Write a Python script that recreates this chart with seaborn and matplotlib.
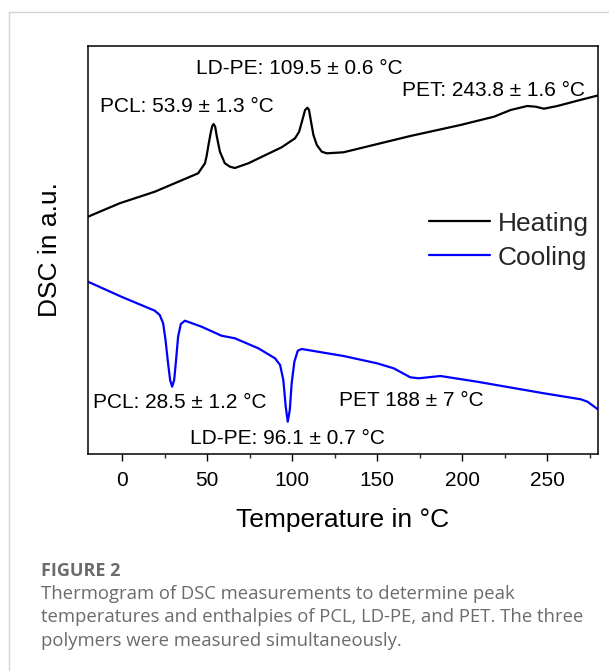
import matplotlib
matplotlib.use("Agg")
import matplotlib.pyplot as plt
import seaborn as sns
import pandas as pd
from matplotlib.ticker import MultipleLocator

# ---- data (DSC in arbitrary units) ----
heat_T = [-20, -1.4, 19.3, 44.8, 48.8, 49.7, 50.7, 52.3, 53.1, 53.9, 54.8, 55.8, 57.6,
          60.5, 63.5, 66.4, 74.3, 93.9, 101.8, 104.2, 106.1, 107.7, 109.1, 110.0, 111.2,
          112.6, 114.6, 117.5, 120.5, 130.3, 169.6, 199.1, 218.8, 228.6, 238.4, 243.3,
          248.2, 256.1, 267.9, 278.7, 280]
heat_dsc = [2.373, 2.507, 2.623, 2.807, 2.907, 2.973, 3.073, 3.223, 3.28, 3.30, 3.273, 3.173,
            3.023, 2.907, 2.873, 2.86, 2.907, 3.067, 3.157, 3.223, 3.34, 3.44, 3.463, 3.44,
            3.323, 3.19, 3.09, 3.023, 3.007, 3.017, 3.18, 3.29, 3.373, 3.44, 3.48, 3.473,
            3.453, 3.48, 3.533, 3.58, 3.585]

cool_T = [-20, -0.4, 19.3, 22.2, 24.2, 25.6, 27.1, 28.3, 29.5, 30.7, 31.8, 33.0, 34.6, 37.0,
          46.8, 58.5, 66.4, 80.2, 90.0, 93.0, 94.9, 96.3, 97.5, 98.7, 99.8, 101.4, 103.4,
          105.7, 130.3, 150.0, 159.8, 169.6, 174.5, 187.3, 208.9, 248.2, 269.9, 273.8, 279.9]
cool_dsc = [1.723, 1.573, 1.433, 1.39, 1.307, 1.14, 0.907, 0.74, 0.673, 0.74, 0.94, 1.173,
            1.30, 1.333, 1.273, 1.183, 1.157, 1.057, 0.957, 0.89, 0.74, 0.473, 0.323, 0.44,
            0.707, 0.923, 1.033, 1.05, 0.98, 0.907, 0.857, 0.767, 0.757, 0.78, 0.723, 0.607,
            0.547, 0.523, 0.447]

series_names = ["Heating", "Cooling"]
series_colors = ["#000000", "#0000ff"]

annotations = [
    ("PCL: 53.9 ± 1.3 °C", -13.0, 3.48),
    ("LD-PE: 109.5 ± 0.6 °C", 43.6, 3.86),
    ("PET: 243.8 ± 1.6 °C", 164.5, 3.64),
    ("PCL: 28.5 ± 1.2 °C", -17.1, 0.52),
    ("LD-PE: 96.1 ± 0.7 °C", 40.1, 0.15),
    ("PET 188 ± 7 °C", 127.4, 0.54),
]

x_ticks = [0, 50, 100, 150, 200, 250]

df = pd.concat([
    pd.DataFrame({"T": heat_T, "DSC": heat_dsc, "Run": series_names[0]}),
    pd.DataFrame({"T": cool_T, "DSC": cool_dsc, "Run": series_names[1]}),
])

sns.set_theme(style="ticks")
plt.rcParams["font.family"] = ["Liberation Sans", "DejaVu Sans"]

fig = plt.figure(figsize=(6.09, 6.71), dpi=100)
ax = fig.add_axes([88 / 609, 1 - 454 / 671, 510 / 609, 408 / 671])

sns.lineplot(data=df, x="T", y="DSC", hue="Run", palette=series_colors,
             estimator=None, sort=False, linewidth=1.6, ax=ax)

ax.set_xlim(-20, 280)
ax.set_ylim(0, 4.08)
ax.set_xticks(x_ticks)
ax.set_xticklabels([str(t) for t in x_ticks])
ax.xaxis.set_minor_locator(MultipleLocator(25))
ax.set_yticks([])
ax.tick_params(axis="x", which="major", direction="out", length=5, width=1.0,
               labelsize=15, pad=7, color="black", labelcolor="black", top=False)
ax.tick_params(axis="x", which="minor", direction="out", length=3, width=1.0, top=False)
for s in ax.spines.values():
    s.set_linewidth(1.1)
    s.set_color("black")
    s.set_visible(True)

ax.set_xlabel("Temperature in °C", fontsize=19, labelpad=13, color="black")
ax.set_ylabel("DSC in a.u.", fontsize=19, labelpad=19, color="black")

for txt, xx, yy in annotations:
    ax.text(xx, yy, txt, fontsize=15, ha="left", va="center", color="black")

leg = ax.legend(loc="center right", bbox_to_anchor=(0.982, 0.523), frameon=False,
                fontsize=19, handlelength=2.3, handletextpad=0.3, labelspacing=0.38,
                borderpad=0, borderaxespad=0)
for line in leg.get_lines():
    line.set_linewidth(1.6)

# publication panel frame and caption
fig.add_artist(plt.Line2D([9 / 609, 1], [1 - 12 / 671, 1 - 12 / 671],
                          transform=fig.transFigure, color="#d4d4d4", linewidth=1.0))
fig.add_artist(plt.Line2D([9 / 609, 9 / 609], [0, 1 - 12 / 671],
                          transform=fig.transFigure, color="#d4d4d4", linewidth=1.0))

cap_font = ["Open Sans", "DejaVu Sans"]
fig.text(41 / 609, 1 - 571 / 671, "FIGURE 2", fontsize=13, fontweight="bold",
         color="#6b6b6b", family=cap_font, ha="left", va="center")
caption_lines = [
    "Thermogram of DSC measurements to determine peak",
    "temperatures and enthalpies of PCL, LD-PE, and PET. The three",
    "polymers were measured simultaneously.",
]
for i, line in enumerate(caption_lines):
    fig.text(41 / 609, 1 - (594 + 23.5 * i) / 671, line, fontsize=13.3,
             color="#6b6b6b", family=cap_font, ha="left", va="center")

fig.savefig("out.png", dpi=100)
